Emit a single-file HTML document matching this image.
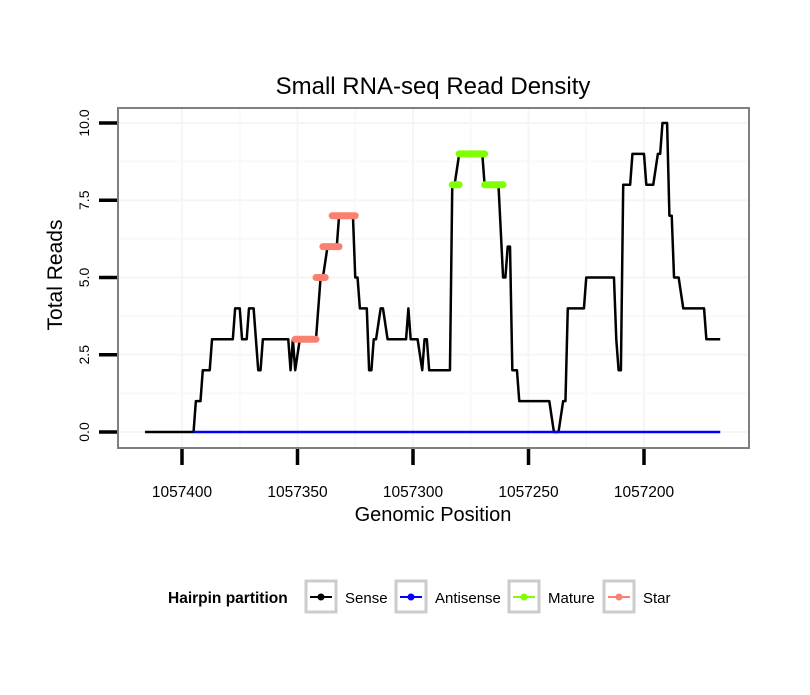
<!DOCTYPE html>
<html><head><meta charset="utf-8"><style>
body{margin:0;background:#fff}
svg text{font-family:"Liberation Sans",sans-serif}
</style></head><body>
<svg id="chart" width="810" height="690" viewBox="0 0 810 690">
<rect width="810" height="690" fill="#fff"/>
<text x="433" y="94" font-size="24" text-anchor="middle">Small RNA-seq Read Density</text>
<g id="grid"></g>
<g id="series"></g>
<rect x="118" y="108" width="631" height="340" fill="none" stroke="#7f7f7f" stroke-width="2"/>
<g id="axes"></g>
<text x="433" y="521" font-size="20" text-anchor="middle">Genomic Position</text>
<text transform="translate(62,275) rotate(-90)" font-size="21" text-anchor="middle">Total Reads</text>
<g>
<text x="168" y="603" font-size="15.5" font-weight="bold">Hairpin partition</text>
<g><rect x="306" y="581" width="30" height="31" fill="#fff" stroke="#ccc" stroke-width="3"/><line x1="310" y1="597" x2="332" y2="597" stroke="#000" stroke-width="2"/><circle cx="321" cy="597" r="3.5" fill="#000"/><text x="345" y="603" font-size="15">Sense</text></g>
<g><rect x="396" y="581" width="30" height="31" fill="#fff" stroke="#ccc" stroke-width="3"/><line x1="400" y1="597" x2="422" y2="597" stroke="#0000ff" stroke-width="2"/><circle cx="411" cy="597" r="3.5" fill="#0000ff"/><text x="435" y="603" font-size="15">Antisense</text></g>
<g><rect x="509" y="581" width="30" height="31" fill="#fff" stroke="#ccc" stroke-width="3"/><line x1="513" y1="597" x2="535" y2="597" stroke="#7fff00" stroke-width="2"/><circle cx="524" cy="597" r="3.5" fill="#7fff00"/><text x="548" y="603" font-size="15">Mature</text></g>
<g><rect x="604" y="581" width="30" height="31" fill="#fff" stroke="#ccc" stroke-width="3"/><line x1="608" y1="597" x2="630" y2="597" stroke="#fa8072" stroke-width="2"/><circle cx="619" cy="597" r="3.5" fill="#fa8072"/><text x="643" y="603" font-size="15">Star</text></g>
</g>
</svg>
<script>
const NS="http://www.w3.org/2000/svg";
const senseX=[1057416,1057395,1057394,1057392,1057391,1057388,1057387,1057378,1057377,1057375,1057374,1057372,1057371,1057369,1057367,1057366,1057365,1057354,1057353,1057352,1057351,1057349,1057342,1057340,1057339,1057337,1057333,1057332,1057326,1057325,1057324,1057323,1057320,1057319,1057318,1057317,1057316,1057314,1057313,1057311,1057303,1057302,1057301,1057298,1057296,1057295,1057294,1057293,1057284,1057283,1057282,1057280,1057270,1057269,1057263,1057261,1057260,1057259,1057258,1057257,1057255,1057254,1057241,1057239,1057237,1057235,1057234,1057233,1057226,1057225,1057213,1057212,1057211,1057210,1057209,1057206,1057205,1057200,1057199,1057196,1057194,1057193,1057192,1057190,1057189,1057188,1057187,1057185,1057183,1057174,1057173,1057167];
const senseY=[0,0,1,1,2,2,3,3,4,4,3,3,4,4,2,2,3,3,2,3,2,3,3,5,5,6,6,7,7,5,5,4,4,2,2,3,3,4,4,3,3,4,3,3,2,3,3,2,2,8,8,9,9,8,8,5,5,6,6,2,2,1,1,0,0,1,1,4,4,5,5,3,2,2,8,8,9,9,8,8,9,9,10,10,7,7,5,5,4,4,3,3];
const antisenseX=[1057395,1057167];
const antisenseY=[0,0];
const matureStart=[1057283,1057280,1057269];
const matureEnd=[1057280,1057269,1057261];
const matureY=[8,9,8];
const starStart=[1057351,1057342,1057339,1057335];
const starEnd=[1057342,1057338,1057332,1057325];
const starY=[3,5,6,7];
const yTicks=[0,2.5,5,7.5,10];
const yTickLabels=["0.0","2.5","5.0","7.5","10.0"];
const xTicks=[1057400,1057350,1057300,1057250,1057200];

const xs=p=>182+(1057400-p)*2.31;
const ys=v=>432-v*30.9;
const grid=document.getElementById('grid'),ser=document.getElementById('series'),axes=document.getElementById('axes');
function mk(tag,attrs,parent){const e=document.createElementNS(NS,tag);for(const k in attrs)e.setAttribute(k,attrs[k]);parent.appendChild(e);return e;}
for(let i=0;i<yTicks.length;i++){
 const g=mk('line',{x1:119,x2:748,y1:ys(yTicks[i]),y2:ys(yTicks[i]),stroke:'#f5f5f5','stroke-width':2},grid);
 
 
 if(i<yTicks.length-1){const m=mk('line',{x1:119,x2:748,y1:ys((yTicks[i]+yTicks[i+1])/2),y2:ys((yTicks[i]+yTicks[i+1])/2),stroke:'#f9f9f9','stroke-width':2},grid);
 
 }
}
for(let i=0;i<xTicks.length;i++){
 const g=mk('line',{x1:xs(xTicks[i]),x2:xs(xTicks[i]),y1:109,y2:447,stroke:'#f5f5f5','stroke-width':2},grid);
 
 
 if(i<xTicks.length-1){const mx=xs((xTicks[i]+xTicks[i+1])/2);const m=mk('line',{x1:mx,x2:mx,y1:109,y2:447,stroke:'#f9f9f9','stroke-width':2},grid);
 
 }
}
yTicks.forEach((v,i)=>{
 const t=mk('line',{x1:99,x2:117,y1:ys(v),y2:ys(v),stroke:'#000','stroke-width':3.5},axes);
 
 
 const l=mk('text',{transform:`translate(89,${ys(v)}) rotate(-90)`,'font-size':14,'text-anchor':'middle'},axes);
 l.textContent=yTickLabels[i];
 
 
});
xTicks.forEach(v=>{
 const t=mk('line',{x1:xs(v),x2:xs(v),y1:449,y2:465,stroke:'#000','stroke-width':3.5},axes);
 
 
 const l=mk('text',{x:xs(v),y:497,'font-size':15.5,'text-anchor':'middle'},axes);
 l.textContent=String(v);
 
 
});
function line(X,Y,color,name){
 const p=mk('polyline',{points:X.map((x,i)=>xs(x)+','+ys(Y[i])).join(' '),fill:'none',stroke:color,'stroke-width':2.5,'stroke-linejoin':'round'},ser);
 
 
}
line(senseX,senseY,'#000','sense-line');
line(antisenseX,antisenseY,'#0000ff','antisense-line');
function seg(S,E,Y,color,name){
 for(let i=0;i<S.length;i++){
  const s=mk('line',{x1:xs(S[i]),x2:xs(E[i]),y1:ys(Y[i]),y2:ys(Y[i]),stroke:color,'stroke-width':7,'stroke-linecap':'round'},ser);
  
  
 }
}
seg(starStart,starEnd,starY,'#fa8072','star-segment');
seg(matureStart,matureEnd,matureY,'#7fff00','mature-segment');
</script>
</body></html>
